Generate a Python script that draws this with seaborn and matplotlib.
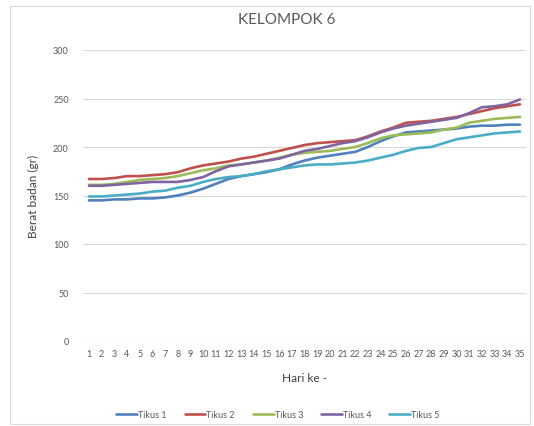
import matplotlib
matplotlib.use("Agg")

import matplotlib.pyplot as plt
from matplotlib.patches import Rectangle
import seaborn as sns
import pandas as pd


#====================================================================================================
hari = list(range(1, 36))

tikus_1 = [145, 145, 146, 146, 147, 147, 148, 150, 153, 157, 162, 167, 170, 172, 174, 177, 182, 186,
           189, 191, 193, 195, 200, 206, 211, 215, 216, 217, 218, 219, 221, 222, 222, 223, 223]

tikus_2 = [167, 167, 168, 170, 170, 171, 172, 174, 178, 181, 183, 185, 188, 190, 193, 196, 199, 202,
           204, 205, 206, 207, 211, 216, 220, 225, 226, 227, 229, 231, 234, 237, 240, 242, 244]

tikus_3 = [161, 161, 162, 164, 166, 167, 168, 170, 173, 176, 178, 181, 182, 184, 186, 189, 192, 194,
           195, 196, 198, 200, 204, 209, 212, 213, 214, 215, 218, 220, 225, 227, 229, 230, 231]

tikus_4 = [160, 160, 161, 162, 163, 164, 164, 164, 166, 169, 175, 180, 182, 184, 186, 188, 192, 196,
           198, 201, 204, 206, 210, 215, 219, 222, 224, 226, 228, 230, 235, 241, 242, 244, 249]

tikus_5 = [149, 149, 150, 151, 152, 154, 155, 158, 160, 164, 167, 169, 170, 172, 175, 177, 179, 181,
           182, 182, 183, 184, 186, 189, 192, 196, 199, 200, 204, 208, 210, 212, 214, 215, 216]

nama_seri = ['Tikus 1', 'Tikus 2', 'Tikus 3', 'Tikus 4', 'Tikus 5']

warna = ['#4F81BD', '#C0504D', '#9BBB59', '#8064A2', '#4BACC6']
#====================================================================================================


frames = []

for nama, nilai in zip(nama_seri, [tikus_1, tikus_2, tikus_3, tikus_4, tikus_5]):

    frames.append(pd.DataFrame({'hari': hari, 'berat': nilai, 'tikus': nama}))

df = pd.concat(frames, ignore_index=True)


#----------------------------------------------------------------------------------------------------
sns.set_style("white")

plt.rcParams['font.family'] = ['Lato', 'DejaVu Sans']

abu = '#595959'

fig = plt.figure(figsize=(5.34, 4.27), dpi=100)

fig.patches.append(Rectangle((10 / 534, 2 / 427), 520 / 534, 418 / 427, transform=fig.transFigure,
                             fill=False, edgecolor='#d9d9d9', linewidth=0.8))

ax = fig.add_axes([82.7 / 534, 85 / 427, 443.6 / 534, 291 / 427])

sns.lineplot(data=df, x='hari', y='berat', hue='tikus', palette=warna, linewidth=1.9, ax=ax)

ax.set_xlim(0.5, 35.5)
ax.set_ylim(0, 300)
ax.set_xticks(hari)
ax.set_yticks(range(0, 301, 50))

ax.yaxis.grid(True, color='#d9d9d9', linewidth=0.8)
ax.set_axisbelow(True)

for s in ax.spines.values():
    s.set_visible(False)

ax.axhline(0, color='#d9d9d9', linewidth=0.8, zorder=0)

ax.tick_params(axis='both', length=0, labelsize=6.5, colors=abu)
ax.tick_params(axis='x', pad=6)
ax.tick_params(axis='y', pad=10)

ax.set_xlabel('Hari ke -', fontsize=8.5, color='#404040', labelpad=10)
ax.set_ylabel('Berat badan (gr)', fontsize=8.5, color='#404040', labelpad=10)

fig.text(287 / 534, 1 - 20 / 427, 'KELOMPOK 6', ha='center', va='center', fontsize=11, color=abu)

handles, labels = ax.get_legend_handles_labels()

ax.legend(handles, labels, loc='upper center', bbox_to_anchor=(0.44, -0.21), ncol=5, frameon=False,
          fontsize=6.5, labelcolor=abu, handlelength=2.3, handletextpad=0.1, columnspacing=2.0)

plt.savefig('out.png', dpi=100)
